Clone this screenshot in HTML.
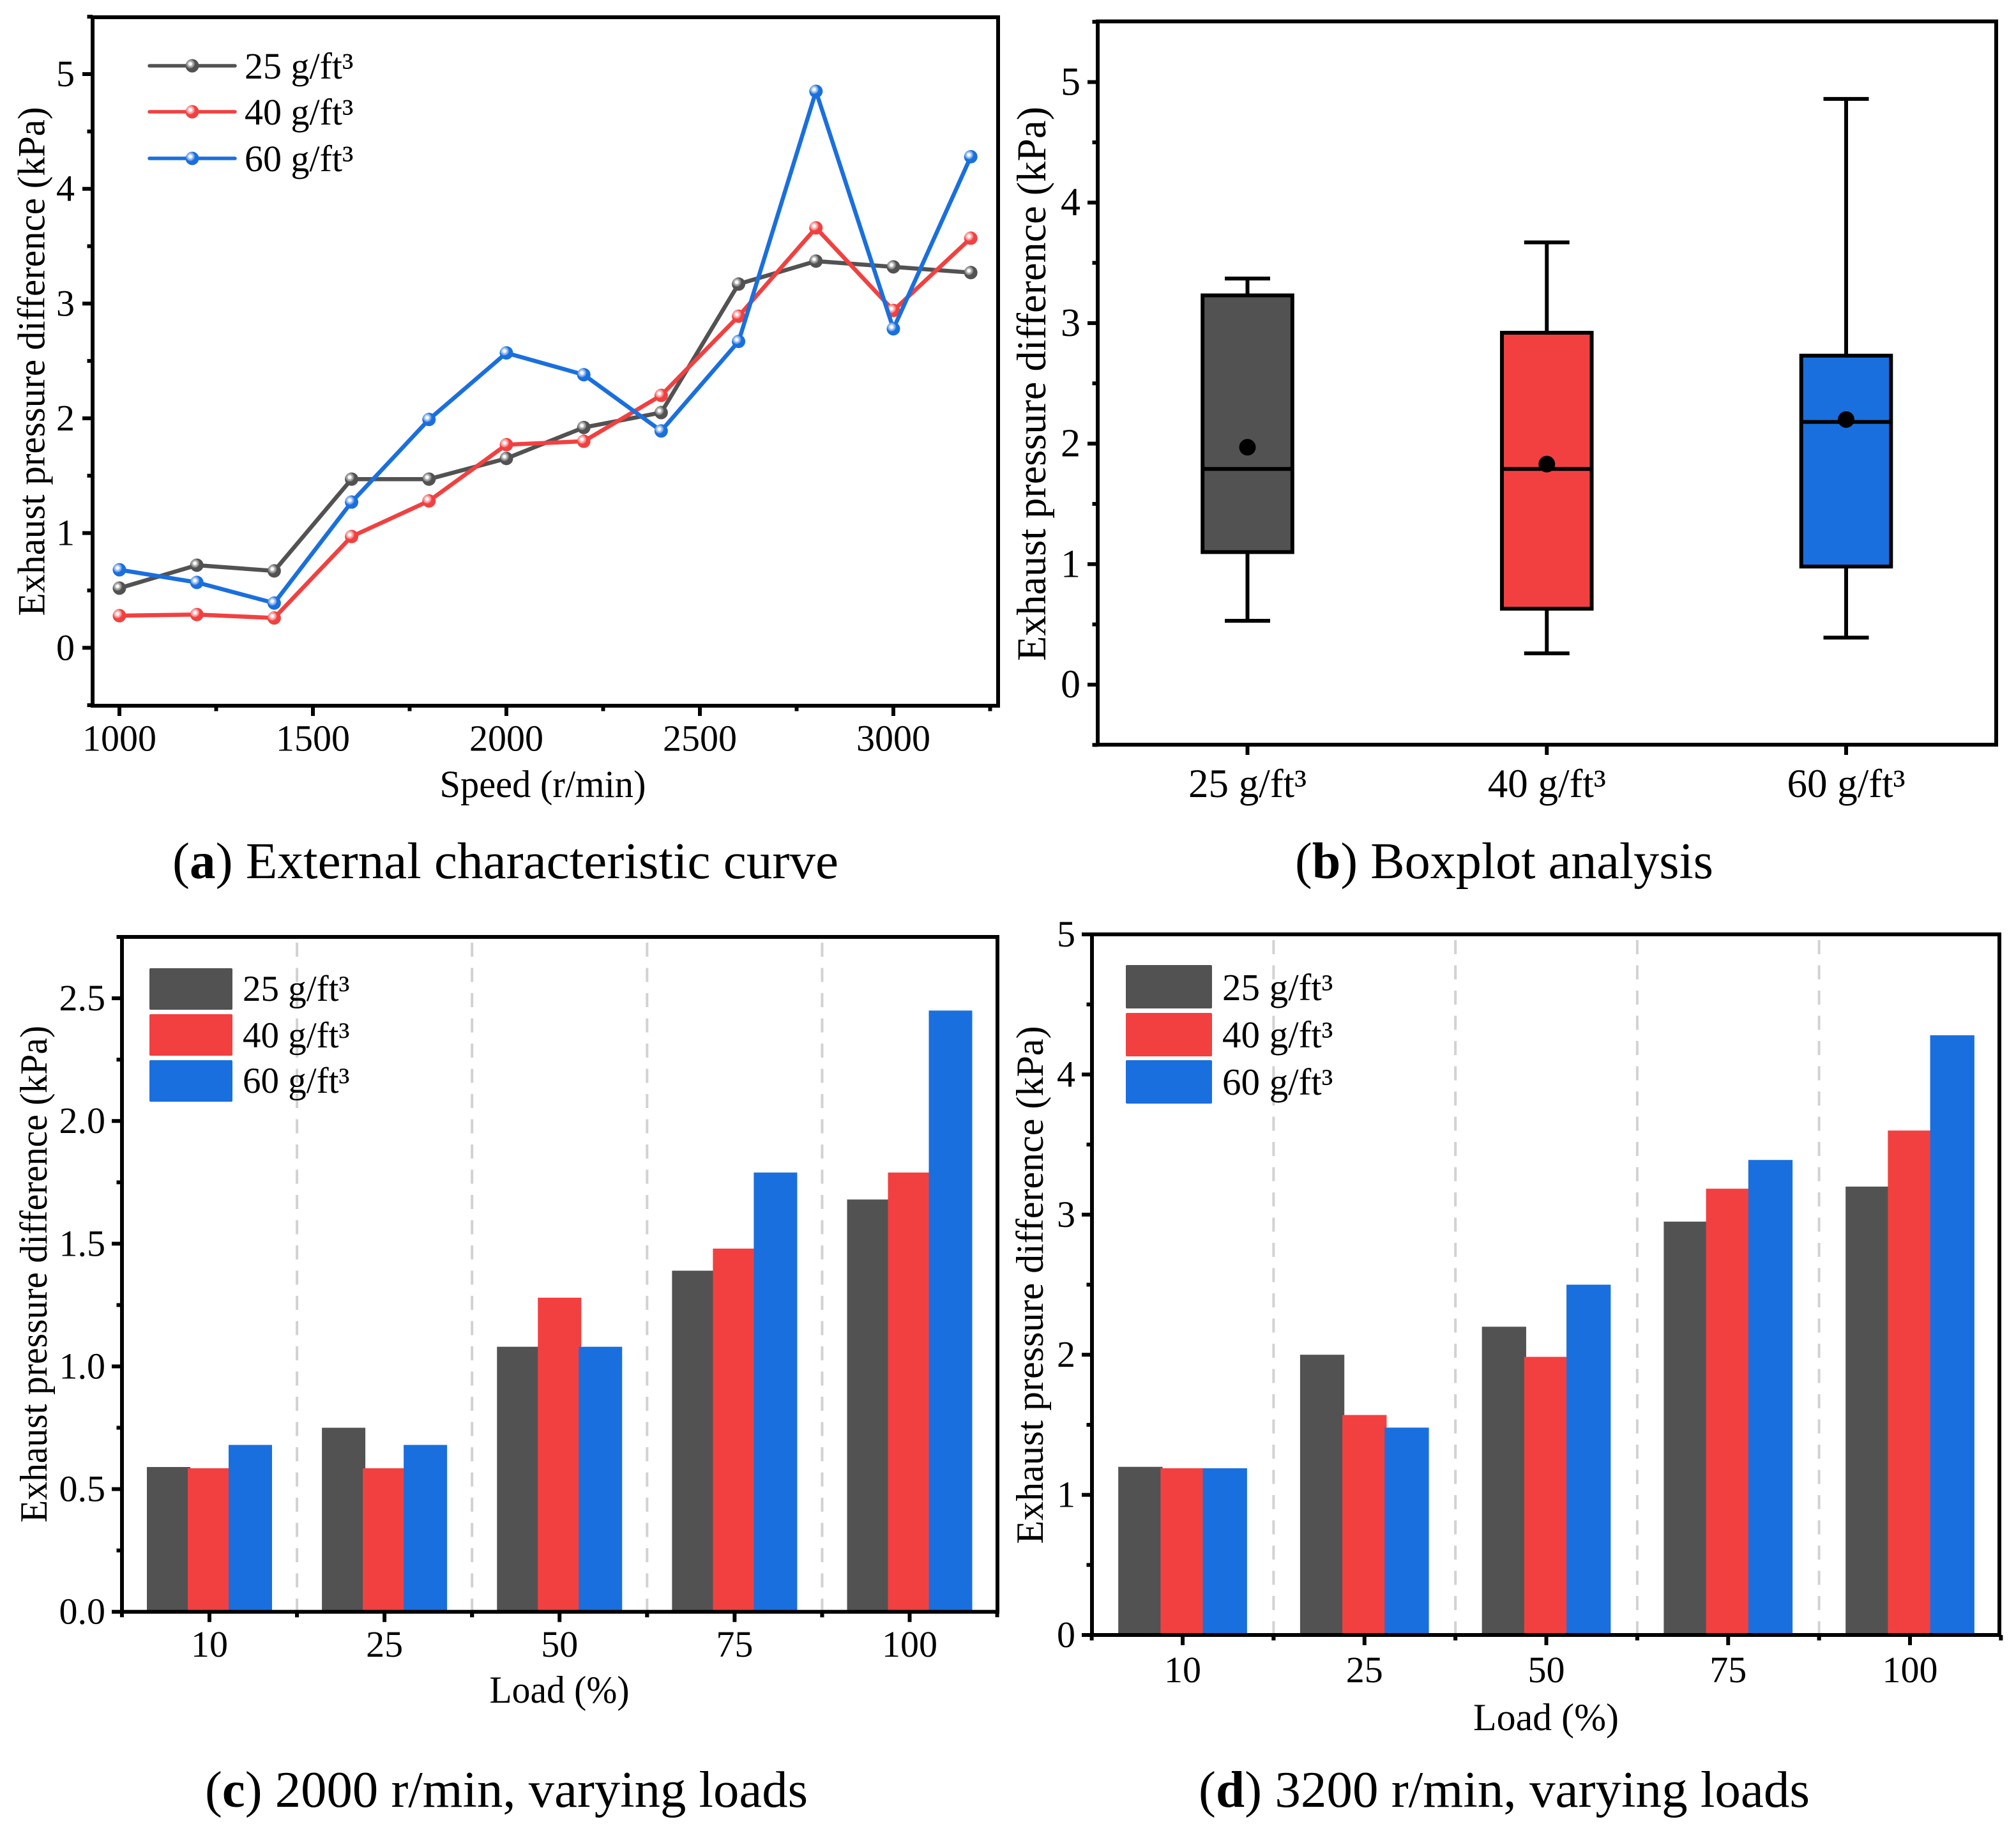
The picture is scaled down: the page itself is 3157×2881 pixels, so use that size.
<!DOCTYPE html>
<html lang="en">
<head>
<meta charset="utf-8">
<title>Exhaust pressure difference charts</title>
<style>
html,body{margin:0;padding:0;background:#fff;}
svg{display:block;}
text{font-family:"Liberation Serif","DejaVu Serif",serif;fill:#000;}
</style>
</head>
<body>
<svg id="figure" width="3157" height="2881" viewBox="0 0 3157 2881" xmlns="http://www.w3.org/2000/svg">
  <defs>
    <radialGradient id="ball-gray" cx="0.36" cy="0.36" r="0.65">
      <stop offset="0" stop-color="#ffffff"/><stop offset="0.18" stop-color="#f4f4f4"/><stop offset="0.26" stop-color="#b8b8b8"/><stop offset="0.44" stop-color="#8c8c8c"/><stop offset="0.54" stop-color="#525252"/><stop offset="1" stop-color="#525252"/>
    </radialGradient>
    <radialGradient id="ball-red" cx="0.36" cy="0.36" r="0.65">
      <stop offset="0" stop-color="#ffffff"/><stop offset="0.18" stop-color="#fff2f2"/><stop offset="0.26" stop-color="#fbb8b8"/><stop offset="0.44" stop-color="#f78a8a"/><stop offset="0.54" stop-color="#f24040"/><stop offset="1" stop-color="#f24040"/>
    </radialGradient>
    <radialGradient id="ball-blue" cx="0.36" cy="0.36" r="0.65">
      <stop offset="0" stop-color="#ffffff"/><stop offset="0.18" stop-color="#eef5ff"/><stop offset="0.26" stop-color="#aecbf5"/><stop offset="0.44" stop-color="#6ea2ea"/><stop offset="0.54" stop-color="#1a6fde"/><stop offset="1" stop-color="#1a6fde"/>
    </radialGradient>
  </defs>

  <g id="panel-a"></g>
  <g id="panel-b"></g>
  <g id="panel-c"></g>
  <g id="panel-d"></g>

  <g>
    <text transform="translate(69.5,566) rotate(-90)" text-anchor="middle" font-size="60" textLength="797" lengthAdjust="spacingAndGlyphs">Exhaust pressure difference (kPa)</text>
    <text x="850" y="1248" text-anchor="middle" font-size="60" textLength="323" lengthAdjust="spacingAndGlyphs">Speed (r/min)</text>
    <text transform="translate(1637,601) rotate(-90)" text-anchor="middle" font-size="65" textLength="868" lengthAdjust="spacingAndGlyphs">Exhaust pressure difference (kPa)</text>
    <text transform="translate(73,1995) rotate(-90)" text-anchor="middle" font-size="60" textLength="778" lengthAdjust="spacingAndGlyphs">Exhaust pressure difference (kPa)</text>
    <text x="876" y="2666" text-anchor="middle" font-size="60" textLength="219" lengthAdjust="spacingAndGlyphs">Load (%)</text>
    <text transform="translate(1633,2012) rotate(-90)" text-anchor="middle" font-size="60" textLength="811" lengthAdjust="spacingAndGlyphs">Exhaust pressure difference (kPa)</text>
    <text x="2421" y="2709" text-anchor="middle" font-size="60" textLength="228" lengthAdjust="spacingAndGlyphs">Load (%)</text>
  </g>

  <g>
    <text x="270" y="1375" font-size="80" textLength="1043" lengthAdjust="spacingAndGlyphs">(<tspan font-weight="bold">a</tspan>) External characteristic curve</text>
    <text x="2028" y="1375" font-size="80" textLength="655" lengthAdjust="spacingAndGlyphs">(<tspan font-weight="bold">b</tspan>) Boxplot analysis</text>
    <text x="321" y="2829" font-size="80" textLength="944" lengthAdjust="spacingAndGlyphs">(<tspan font-weight="bold">c</tspan>) 2000 r/min, varying loads</text>
    <text x="1877" y="2829" font-size="80" textLength="957" lengthAdjust="spacingAndGlyphs">(<tspan font-weight="bold">d</tspan>) 3200 r/min, varying loads</text>
  </g>
</svg>

<script>
/* ---------- shared labels ---------- */
const seriesNames = ['25 g/ft³', '40 g/ft³', '60 g/ft³'];
const seriesColors = ['#525252', '#f24040', '#1a6fde'];
const seriesBalls = ['url(#ball-gray)', 'url(#ball-red)', 'url(#ball-blue)'];

/* ---------- panel a: line chart ---------- */
const speedValues = [1000, 1200, 1400, 1600, 1800, 2000, 2200, 2400, 2600, 2800, 3000, 3200];
const speed25 = [0.52, 0.72, 0.67, 1.47, 1.47, 1.65, 1.92, 2.05, 3.17, 3.37, 3.32, 3.27];
const speed40 = [0.28, 0.29, 0.26, 0.97, 1.28, 1.77, 1.80, 2.20, 2.89, 3.66, 2.94, 3.57];
const speed60 = [0.68, 0.57, 0.39, 1.27, 1.99, 2.57, 2.38, 1.89, 2.67, 4.85, 2.78, 4.28];
const speedXTicks = [1000, 1500, 2000, 2500, 3000];
const speedXMinorTicks = [1250, 1750, 2250, 2750, 3250];
const speedYTicks = [0, 1, 2, 3, 4, 5];
const speedYMinorTicks = [-0.5, 0.5, 1.5, 2.5, 3.5, 4.5, 5.5];

/* ---------- panel b: boxplot ---------- */
const boxMin = [0.53, 0.26, 0.39];
const boxQ1 = [1.10, 0.63, 0.98];
const boxMedian = [1.79, 1.79, 2.18];
const boxQ3 = [3.23, 2.92, 2.73];
const boxMax = [3.37, 3.67, 4.86];
const boxMean = [1.97, 1.83, 2.20];
const boxYTicks = [0, 1, 2, 3, 4, 5];
const boxYMinorTicks = [-0.5, 0.5, 1.5, 2.5, 3.5, 4.5, 5.5];

/* ---------- panels c and d: grouped bars ---------- */
const loadCategories = ['10', '25', '50', '75', '100'];
const load2000s25 = [0.59, 0.75, 1.08, 1.39, 1.68];
const load2000s40 = [0.585, 0.585, 1.28, 1.48, 1.79];
const load2000s60 = [0.68, 0.68, 1.08, 1.79, 2.45];
const load2000YTicks = [0, 0.5, 1, 1.5, 2, 2.5];
const load2000YLabels = ['0.0', '0.5', '1.0', '1.5', '2.0', '2.5'];
const load2000YMinorTicks = [0.25, 0.75, 1.25, 1.75, 2.25, 2.75];
const load3200s25 = [1.2, 2.0, 2.2, 2.95, 3.2];
const load3200s40 = [1.19, 1.57, 1.985, 3.185, 3.6];
const load3200s60 = [1.19, 1.48, 2.5, 3.39, 4.28];
const load3200YTicks = [0, 1, 2, 3, 4, 5];
const load3200YLabels = ['0', '1', '2', '3', '4', '5'];
const load3200YMinorTicks = [0.5, 1.5, 2.5, 3.5, 4.5];

/* ---------- helpers ---------- */
const SVG_NS = 'http://www.w3.org/2000/svg';
function mk(tag, attrs, parent) {
  const el = document.createElementNS(SVG_NS, tag);
  for (const k in attrs) el.setAttribute(k, attrs[k]);
  parent.appendChild(el);
  return el;
}
function linear(d0, d1, r0, r1) {
  return function (v) { return r0 + (v - d0) * (r1 - r0) / (d1 - d0); };
}
const INK = 6;
const MAJOR = 16;
const MINOR = 8.5;

function drawFrame(parent, prefix, box) {
  const frame = mk('rect', { x: box.l, y: box.t, width: box.r - box.l, height: box.b - box.t, fill: 'none', stroke: '#000', 'stroke-width': 6 }, parent);
  
  
}
function drawXTick(parent, prefix, box, px, len) {
  const tick = mk('line', { x1: px, x2: px, y1: box.b, y2: box.b + len, stroke: '#000', 'stroke-width': INK }, parent);
  
  
}
function drawYTick(parent, prefix, box, py, len) {
  const tick = mk('line', { x1: box.l - len, x2: box.l, y1: py, y2: py, stroke: '#000', 'stroke-width': INK }, parent);
  
  
}
function drawXLabel(parent, prefix, px, py, size, str) {
  const label = mk('text', { x: px, y: py, 'font-size': size, 'text-anchor': 'middle' }, parent);
  
  
  label.textContent = str;
}
function drawYLabel(parent, prefix, px, py, size, str) {
  const label = mk('text', { x: px, y: py, 'font-size': size, 'text-anchor': 'end' }, parent);
  
  
  label.textContent = str;
}

/* ---------- panel a ---------- */
(function () {
  const g = document.getElementById('panel-a');
  const box = { l: 145, r: 1563, t: 27, b: 1105 };
  const x = linear(1000, 3000, 187, 1399);
  const y = linear(0, 5, 1014.3, 116);
  const all = [speed25, speed40, speed60];

  all.forEach(function (vals, s) {
    const pts = vals.map(function (v, i) { return x(speedValues[i]) + ',' + y(v); }).join(' ');
    const line = mk('polyline', { points: pts, fill: 'none', stroke: seriesColors[s], 'stroke-width': 6.5, 'stroke-linejoin': 'round' }, g);
    
    
    vals.forEach(function (v, i) {
      const dot = mk('circle', { cx: x(speedValues[i]), cy: y(v), r: 10.5, fill: seriesBalls[s] }, g);
      
      
    });
  });

  drawFrame(g, 'panel-a', box);
  speedXTicks.forEach(function (v) {
    drawXTick(g, 'panel-a', box, x(v), MAJOR);
    drawXLabel(g, 'panel-a', x(v), 1175.5, 58, String(v));
  });
  speedXMinorTicks.forEach(function (v) { drawXTick(g, 'panel-a', box, x(v), MINOR); });
  speedYTicks.forEach(function (v) {
    drawYTick(g, 'panel-a', box, y(v), MAJOR);
    drawYLabel(g, 'panel-a', 117, y(v) + 19, 58, String(v));
  });
  speedYMinorTicks.forEach(function (v) { drawYTick(g, 'panel-a', box, y(v), MINOR); });

  const legendY = [103, 175, 248];
  seriesNames.forEach(function (name, s) {
    const entry = mk('g', {}, g);
    
    
    mk('line', { x1: 234, x2: 368, y1: legendY[s], y2: legendY[s], stroke: seriesColors[s], 'stroke-width': 5.5, 'stroke-linecap': 'round' }, entry);
    mk('circle', { cx: 301, cy: legendY[s], r: 10.5, fill: seriesBalls[s] }, entry);
    const t = mk('text', { x: 383, y: legendY[s] + 20, 'font-size': 58 }, entry);
    t.textContent = name;
  });
})();

/* ---------- panel b ---------- */
(function () {
  const g = document.getElementById('panel-b');
  const box = { l: 1719, r: 3126, t: 33.5, b: 1166 };
  const x = linear(0, 2, 1953.5, 2891);
  const y = linear(0, 5, 1072, 128.5);
  const halfBox = 70.3;
  const halfCap = 35.5;

  seriesNames.forEach(function (name, i) {
    const c = x(i);
    const item = mk('g', {}, g);
    
    

    const whisker = mk('line', { x1: c, x2: c, y1: y(boxMin[i]), y2: y(boxMax[i]), stroke: '#000', 'stroke-width': INK }, item);
    
    

    const capTop = mk('line', { x1: c - halfCap, x2: c + halfCap, y1: y(boxMax[i]), y2: y(boxMax[i]), stroke: '#000', 'stroke-width': INK }, item);
    
    

    const capBottom = mk('line', { x1: c - halfCap, x2: c + halfCap, y1: y(boxMin[i]), y2: y(boxMin[i]), stroke: '#000', 'stroke-width': INK }, item);
    
    

    const rect = mk('rect', { x: c - halfBox, width: 2 * halfBox, y: y(boxQ3[i]), height: y(boxQ1[i]) - y(boxQ3[i]), fill: seriesColors[i], stroke: '#000', 'stroke-width': INK }, item);
    
    

    const median = mk('line', { x1: c - halfBox, x2: c + halfBox, y1: y(boxMedian[i]), y2: y(boxMedian[i]), stroke: '#000', 'stroke-width': INK }, item);
    
    

    const mean = mk('circle', { cx: c, cy: y(boxMean[i]), r: 13, fill: '#000' }, item);
    
    

    drawXTick(g, 'panel-b', box, c, MAJOR);
    drawXLabel(g, 'panel-b', c, 1248, 63, name);
  });

  drawFrame(g, 'panel-b', box);
  boxYTicks.forEach(function (v) {
    drawYTick(g, 'panel-b', box, y(v), MAJOR);
    drawYLabel(g, 'panel-b', 1692, y(v) + 20, 62, String(v));
  });
  boxYMinorTicks.forEach(function (v) { drawYTick(g, 'panel-b', box, y(v), MINOR); });
})();

/* ---------- panels c and d ---------- */
function drawBars(cfg) {
  const g = document.getElementById(cfg.id);
  const box = cfg.box;
  const x = linear(0, 4, cfg.c0, cfg.c4);
  const y = linear(0, cfg.yMax, box.b, box.t);
  const catStep = (cfg.c4 - cfg.c0) / 4;

  for (let i = 0; i < loadCategories.length - 1; i++) {
    const px = x(i) + catStep / 2;
    const sep = mk('line', { x1: px, x2: px, y1: box.t + 9, y2: box.b, stroke: '#d2d2d2', 'stroke-width': 4, 'stroke-dasharray': '22 17.5' }, g);
    
    
  }

  cfg.series.forEach(function (vals, s) {
    vals.forEach(function (v, i) {
      const cx = x(i) + (s - 1) * cfg.barStep;
      const bar = mk('rect', { x: cx - cfg.barWidth / 2, width: cfg.barWidth, y: y(v), height: box.b - y(v), fill: seriesColors[s] }, g);
      
      
    });
  });

  drawFrame(g, cfg.id, box);
  loadCategories.forEach(function (cat, i) {
    drawXTick(g, cfg.id, box, x(i), MAJOR);
    drawXLabel(g, cfg.id, x(i), cfg.xLabelY, 58, cat);
    drawXTick(g, cfg.id, box, x(i) - catStep / 2, MINOR);
    drawXTick(g, cfg.id, box, x(i) + catStep / 2, MINOR);
  });
  cfg.yTicks.forEach(function (v, i) {
    drawYTick(g, cfg.id, box, y(v), MAJOR);
    drawYLabel(g, cfg.id, cfg.yLabelX, y(v) + 19, 58, cfg.yLabels[i]);
  });
  cfg.yMinor.forEach(function (v) { drawYTick(g, cfg.id, box, y(v), MINOR); });

  seriesNames.forEach(function (name, s) {
    const entry = mk('g', {}, g);
    
    
    mk('rect', { x: cfg.legendX, y: cfg.legendTop[s], width: cfg.legendW, height: cfg.legendH, rx: 2, fill: seriesColors[s] }, entry);
    const t = mk('text', { x: cfg.legendTextX, y: cfg.legendBase[s], 'font-size': cfg.legendFont }, entry);
    t.textContent = name;
  });
}

drawBars({
  id: 'panel-c',
  box: { l: 191, r: 1562, t: 1467, b: 2523.7 },
  c0: 328, c4: 1424.5,
  yMax: 2.75,
  barStep: 64, barWidth: 68,
  series: [load2000s25, load2000s40, load2000s60],
  yTicks: load2000YTicks, yLabels: load2000YLabels, yMinor: load2000YMinorTicks,
  xLabelY: 2594, yLabelX: 165,
  legendX: 234, legendW: 130, legendH: 65,
  legendTop: [1516, 1588, 1660],
  legendBase: [1567, 1640, 1711],
  legendTextX: 380, legendFont: 57
});

drawBars({
  id: 'panel-d',
  box: { l: 1710, r: 3131, t: 1463, b: 2560 },
  c0: 1852, c4: 2991,
  yMax: 5,
  barStep: 66.2, barWidth: 69.3,
  series: [load3200s25, load3200s40, load3200s60],
  yTicks: load3200YTicks, yLabels: load3200YLabels, yMinor: load3200YMinorTicks,
  xLabelY: 2634, yLabelX: 1684,
  legendX: 1763, legendW: 135, legendH: 68,
  legendTop: [1511, 1586, 1660],
  legendBase: [1566, 1640, 1714],
  legendTextX: 1914, legendFont: 59
});
</script>
</body>
</html>
